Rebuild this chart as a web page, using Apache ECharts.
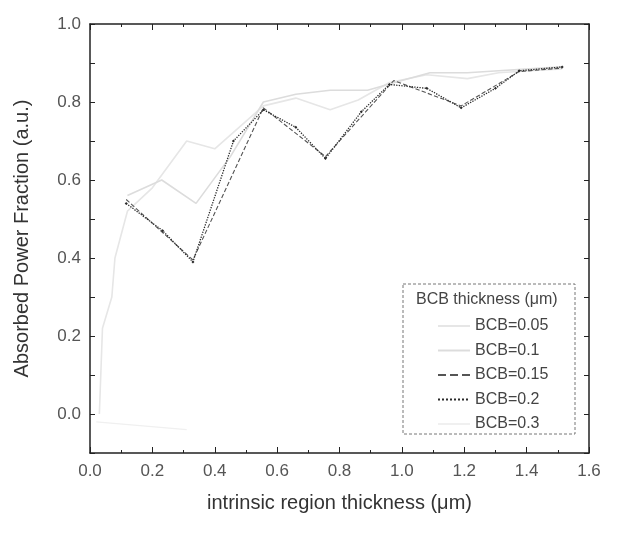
<!DOCTYPE html>
<html><head><meta charset="utf-8">
<script src="https://cdn.jsdelivr.net/npm/echarts@6/dist/echarts.min.js"></script>
<style>html,body{margin:0;padding:0;background:#fff}#c{width:644px;height:534px}</style>
</head><body><div id="c"></div>
<script>
const seriesNames = ['BCB=0.05','BCB=0.1','BCB=0.15','BCB=0.2','BCB=0.3'];
const x005 = [0.03,0.04,0.07,0.08,0.12,0.20,0.31,0.40,0.556,0.66,0.77,0.86,0.96,1.08,1.21,1.31,1.41,1.514];
const y005 = [0.00,0.22,0.30,0.40,0.52,0.58,0.70,0.68,0.79,0.81,0.78,0.805,0.85,0.87,0.86,0.875,0.88,0.885];
const x01 = [0.12,0.23,0.34,0.45,0.556,0.66,0.77,0.89,1.00,1.09,1.21,1.31,1.41,1.514];
const y01 = [0.56,0.60,0.54,0.66,0.80,0.82,0.83,0.83,0.855,0.875,0.875,0.88,0.885,0.89];
const x015 = [0.116,0.33,0.556,0.755,0.974,1.19,1.296,1.376,1.514];
const y015 = [0.55,0.395,0.785,0.66,0.855,0.79,0.84,0.878,0.887];
const x02 = [0.116,0.233,0.33,0.46,0.556,0.66,0.755,0.87,0.96,1.08,1.19,1.30,1.376,1.514];
const y02 = [0.54,0.47,0.39,0.70,0.78,0.735,0.655,0.775,0.845,0.835,0.785,0.835,0.88,0.89];
const x03 = [0.02,0.31];
const y03 = [-0.02,-0.04];
const xTicks = [0,0.2,0.4,0.6,0.8,1.0,1.2,1.4,1.6];
const yLabels = ['0.0','0.2','0.4','0.6','0.8','1.0'];

const pairs = (xs, ys) => xs.map((x, i) => [x, ys[i]]);
const font = 'Liberation Sans, Arial, sans-serif';
const axisCol = '#222';
const chart = echarts.init(document.getElementById('c'), null, {renderer:'canvas'});
const styles = [
  {color:'#e6e6e6', width:1.6, type:'solid', symbol:'none'},
  {color:'#dcdcdc', width:1.6, type:'solid', symbol:'none'},
  {color:'#555555', width:1.1, type:'dashed', symbol:'none'},
  {color:'#2a2a2a', width:1.3, type:'dotted', symbol:'diamond'},
  {color:'#f0f0f0', width:1.2, type:'solid', symbol:'none'}
];
const datas = [pairs(x005,y005), pairs(x01,y01), pairs(x015,y015), pairs(x02,y02), pairs(x03,y03)];
const yFmt = v => { const r = Math.round(v*10); return (r >= 0 && r % 2 === 0) ? (r/10).toFixed(1) : ''; };
chart.setOption({
  animation:false,
  backgroundColor:'#fff',
  grid:{left:90, right:55, top:24, bottom:81},
  xAxis:[{
    type:'value', min:0, max:1.6, interval:0.2,
    name:'intrinsic region thickness (\u03bcm)', nameLocation:'middle', nameGap:40,
    nameTextStyle:{fontFamily:font, fontSize:20, color:'#333'},
    axisLine:{show:true, onZero:false, lineStyle:{color:axisCol, width:1.5}},
    axisTick:{show:true, inside:true, length:6, lineStyle:{color:axisCol}},
    minorTick:{show:true, splitNumber:2, length:3, lineStyle:{color:axisCol}},
    axisLabel:{fontFamily:font, fontSize:17, color:'#555', margin:10,
      formatter:v=>v.toFixed(1)},
    splitLine:{show:false}
  },{
    type:'value', position:'top', min:0, max:1.6, interval:0.2,
    axisLine:{show:true, onZero:false, lineStyle:{color:axisCol, width:1.5}},
    axisTick:{show:true, inside:true, length:6, lineStyle:{color:axisCol}},
    minorTick:{show:true, splitNumber:2, length:3, lineStyle:{color:axisCol}},
    axisLabel:{show:false}, splitLine:{show:false}
  }],
  yAxis:[{
    type:'value', min:-0.1, max:1.0, interval:0.1,
    name:'Absorbed Power Fraction (a.u.)', nameLocation:'middle', nameGap:58,
    nameTextStyle:{fontFamily:font, fontSize:20, color:'#333'},
    axisLine:{show:true, onZero:false, lineStyle:{color:axisCol, width:1.5}},
    axisTick:{show:true, inside:true, length:5, lineStyle:{color:axisCol}},
    axisLabel:{fontFamily:font, fontSize:17, color:'#555', margin:9, formatter:yFmt},
    splitLine:{show:false}
  },{
    type:'value', position:'right', min:-0.1, max:1.0, interval:0.1,
    axisLine:{show:true, onZero:false, lineStyle:{color:axisCol, width:1.5}},
    axisTick:{show:true, inside:true, length:5, lineStyle:{color:axisCol}},
    axisLabel:{show:false}, splitLine:{show:false}
  }],
  legend:{
    orient:'vertical', left:432, top:313, itemGap:8.5, itemWidth:32, itemHeight:10,
    data:seriesNames, itemStyle:{opacity:0},
    textStyle:{fontFamily:font, fontSize:16, color:'#444'}
  },
  graphic:[
    {type:'rect', shape:{x:403, y:284, width:172, height:150},
     style:{fill:'#fff', stroke:'#777', lineWidth:1, lineDash:[3,2]}, z:1},
    {type:'text', left:416, top:292, z:10,
     style:{text:'BCB thickness (\u03bcm)', font:'16px '+font, fill:'#444'}}
  ],
  series: seriesNames.map((n, i) => ({
    name:n, type:'line', data:datas[i], xAxisIndex:0, yAxisIndex:0,
    symbol:styles[i].symbol, symbolSize:3, showSymbol:styles[i].symbol!=='none',
    itemStyle:{color:styles[i].color},
    lineStyle:{color:styles[i].color, width:styles[i].width, type:styles[i].type},
    z:2+i
  }))
});
</script></body></html>
